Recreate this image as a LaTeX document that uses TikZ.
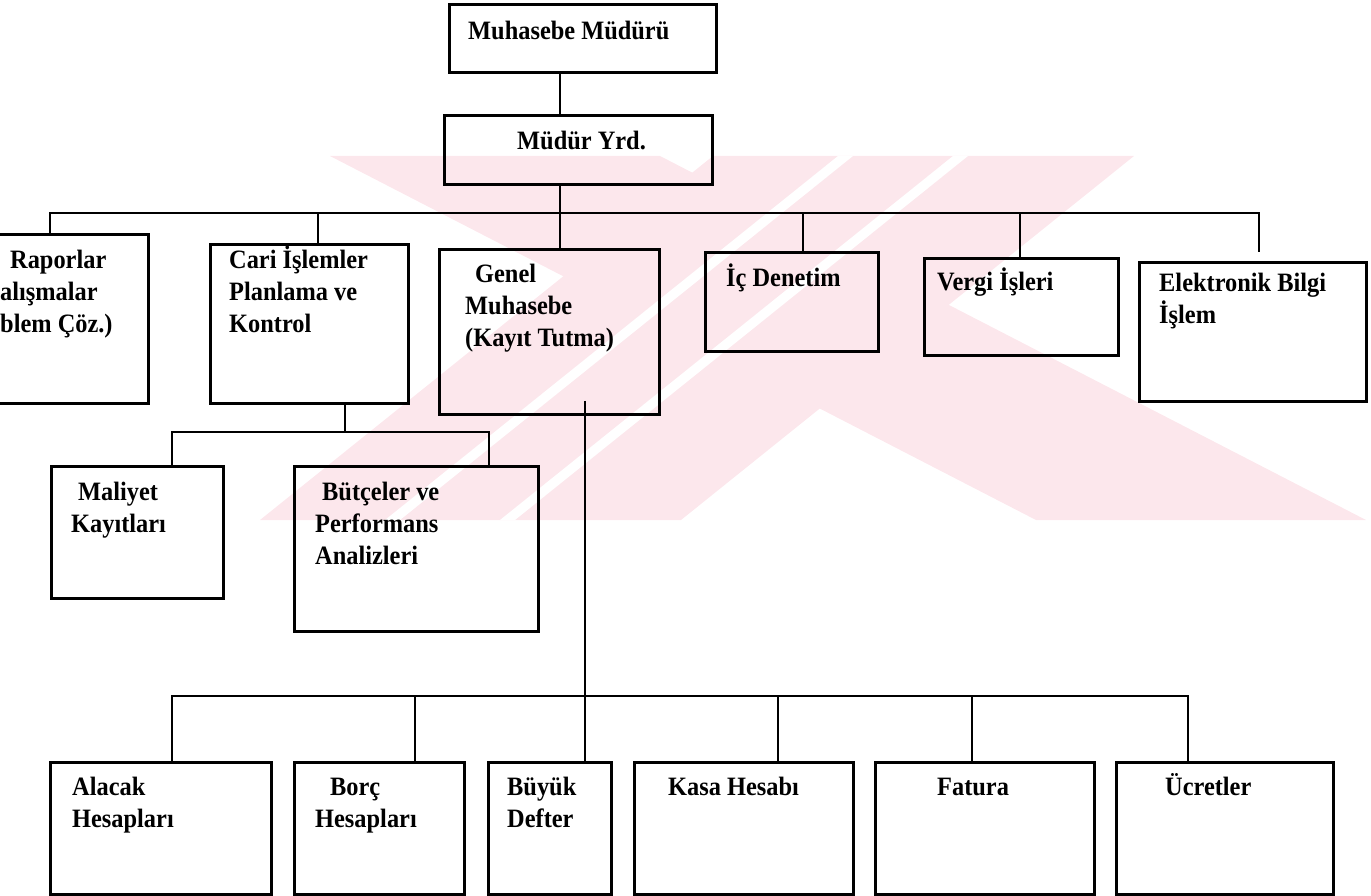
\documentclass[tikz,border=0pt]{standalone}
\usepackage{fontspec}
\setmainfont{Liberation Serif}[FakeStretch=0.92]
\usetikzlibrary{calc}

\pgfdeclarelayer{bg}
\pgfsetlayers{bg,main}

\definecolor{wmark}{RGB}{252,231,236}

\tikzset{
  box/.style={draw=black,line width=2.8pt,anchor=north west,inner sep=0pt},
  txt/.style={anchor=base west,inner sep=0pt,align=left,
    font=\bfseries\fontsize{26.5}{32}\selectfont},
  link/.style={draw=black,line width=2.6pt},
}

\begin{document}
\begin{tikzpicture}[x=1pt,y=-1pt]
  \useasboundingbox (0,0) rectangle (1371,896);

  % watermark in the back
  \begin{pgfonlayer}{bg}
  \fill[wmark] (713,156) -- (1134,156) -- (681,520) -- (260,520) -- cycle;
  \fill[wmark] (330,156) -- (660,156) -- (1366,520) -- (1036,520) -- cycle;
  \foreach \b in {385,500} {
    \fill[white] (\b+453,156) -- (\b+468,156) -- (\b+15,520) -- (\b,520) -- cycle;
  };
  \end{pgfonlayer}

  % draw boxes
  \foreach \n/\xa/\ya/\xb/\yb in {mudur/448/3/715/71, yrd/443/114/711/183,
      rap/-60/233/147/402, cari/209/243/407/402, genel/438/248/658/413,
      ic/704/251/877/350, vergi/923/257/1117/354, elek/1138/261/1365/400,
      maliyet/50/465/222/597, butce/293/465/537/630,
      alacak/49/761/270/893, borc/293/761/463/893, buyuk/487/761/610/893,
      kasa/633/761/852/893, fatura/874/761/1093/893, ucret/1115/761/1332/893} {
    \node[box,minimum width={(\xb-\xa)*1pt},minimum height={(\yb-\ya)*1pt}] (\n) at (\xa,\ya) {};
  };

  % texts in the boxes (placed at the baseline of the last line)
  \node[txt] (mudur-t) at (468,40) {Muhasebe Müdürü};
  \node[txt] (yrd-t) at (517,150) {Müdür Yrd.};
  \node[txt] (rap-t) at (0,332) {\hspace*{10pt}Raporlar\\alışmalar\\blem Çöz.)};
  \node[txt] (cari-t) at (229,332) {Cari İşlemler\\Planlama ve\\Kontrol};
  \node[txt] (genel-t) at (465,346) {\hspace*{10pt}Genel\\Muhasebe\\(Kayıt Tutma)};
  \node[txt] (ic-t) at (726,287) {İç Denetim};
  \node[txt] (vergi-t) at (937,290) {Vergi İşleri};
  \node[txt] (elek-t) at (1159,323) {Elektronik Bilgi\\İşlem};
  \node[txt] (maliyet-t) at (71,532) {\hspace*{7pt}Maliyet\\Kayıtları};
  \node[txt] (butce-t) at (315,564) {\hspace*{7pt}Bütçeler ve\\Performans\\Analizleri};
  \node[txt] (alacak-t) at (72,827) {Alacak\\Hesapları};
  \node[txt] (borc-t) at (315,827) {\hspace*{15pt}Borç\\Hesapları};
  \node[txt] (buyuk-t) at (507,827) {Büyük\\Defter};
  \node[txt] (kasa-t) at (668,795) {Kasa Hesabı};
  \node[txt] (fatura-t) at (937,795) {Fatura};
  \node[txt] (ucret-t) at (1165,795) {Ücretler};

  % top of the chart
  \coordinate (c0) at (560,213);
  \coordinate (busL) at (50,213);
  \coordinate (busR) at (1259,213);
  \coordinate (elekend) at (1259,252);
  \draw[link] (mudur.south -| c0) -- (yrd.north -| c0);
  \draw[link] (yrd.south -| c0) -- (c0);
  \draw[link] (busL) -- (busR) -- (elekend);
  \foreach \n/\x in {rap/50,cari/318,genel/560,ic/803,vergi/1020} {
    \draw[link] (\n.north -| \x,0) |- (c0);
  };

  % under Cari Islemler
  \coordinate (c1) at (345,432);
  \draw[link] (cari.south -| c1) ++(0,-2) -- (c1);
  \draw[link] (maliyet.north -| 172,0) |- (c1) -| (butce.north -| 489,0);

  % under Genel Muhasebe
  \coordinate (c2) at (585,696);
  \draw[link] (genel.south -| c2) ++(0,-15) -- (c2);
  \draw[link] (alacak.north -| 172,0) |- (c2) -| (ucret.north -| 1188,0);
  \foreach \n/\x in {borc/415,buyuk/585,kasa/778,fatura/972} {
    \draw[link] (\n.north -| \x,0) |- (c2);
  };

\end{tikzpicture}
\end{document}
